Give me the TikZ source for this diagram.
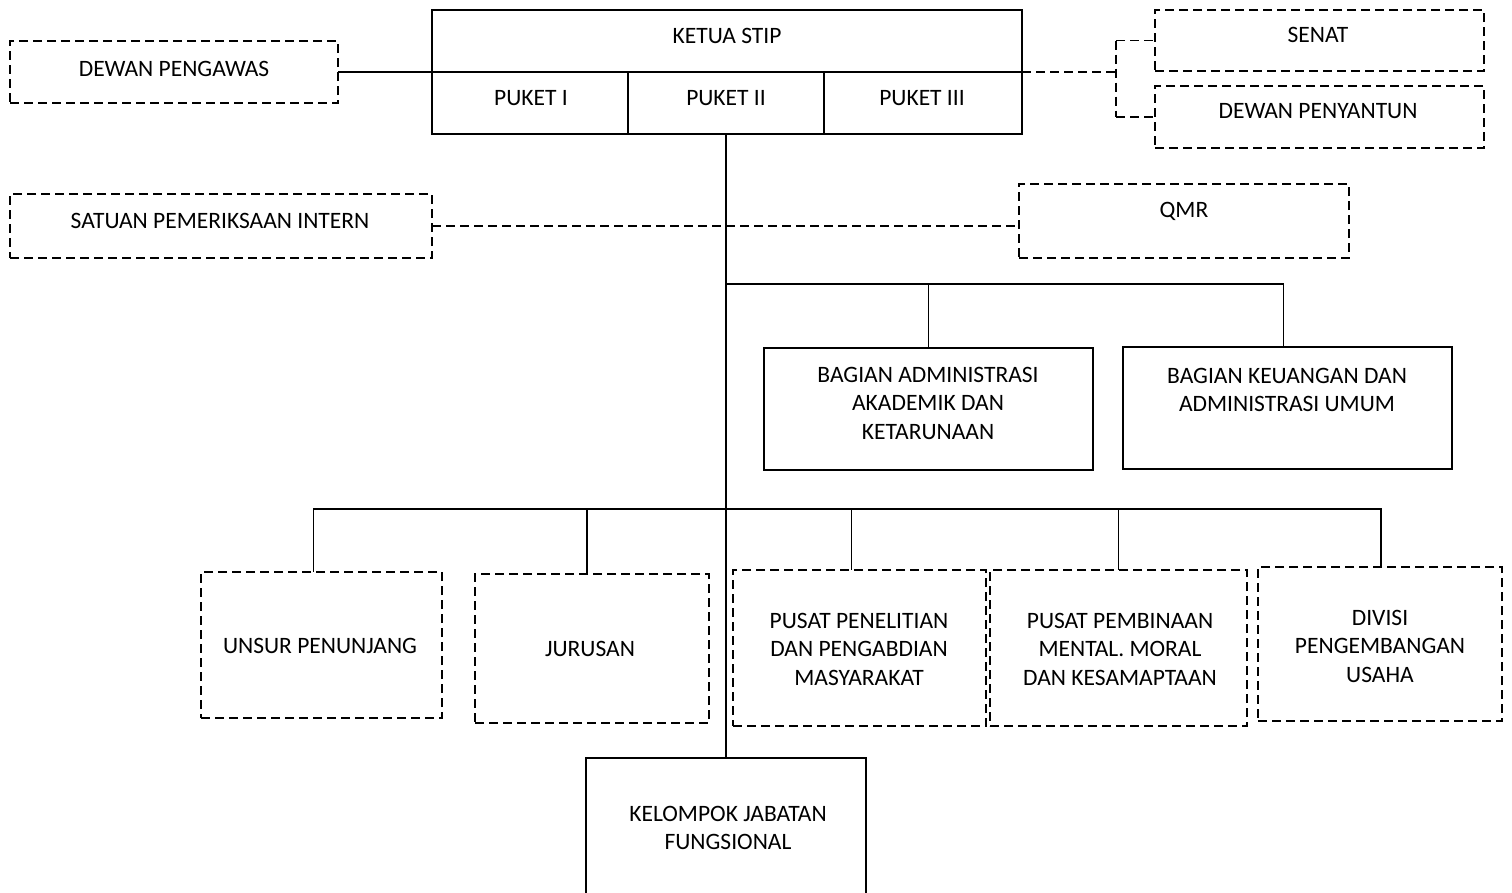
\documentclass[tikz,border=0pt]{standalone}
\usepackage{fontspec}
\setmainfont{Carlito}
\begin{document}
\begin{tikzpicture}[x=1pt,y=-1pt,
  every node/.style={inner sep=0pt, outer sep=0pt},
  sbox/.style={draw, line width=1.8pt, rectangle},
  dbox/.style={draw, line width=1.8pt, rectangle, dash pattern=on 9pt off 5pt},
  lbl/.style={font=\fontsize{23.5}{28.5}\selectfont, align=center, text depth=0pt},
  mlbl/.style={font=\fontsize{23.5}{28.5}\selectfont, align=center},
  conn/.style={line width=1.8pt},
  dconn/.style={line width=1.8pt, dash pattern=on 9pt off 5pt}]
\useasboundingbox[fill=white] (0,0) rectangle (1512,892);

% top block
\node[sbox, minimum width=590pt, minimum height=62pt] (ketua) at (727,41) {};
\node[sbox, minimum width=196pt, minimum height=62pt] (p1) at (530,103) {};
\node[sbox, minimum width=196pt, minimum height=62pt] (p2) at (726,103) {};
\node[sbox, minimum width=198pt, minimum height=62pt] (p3) at (923,103) {};
\node[lbl] (tketua) at (727,36) {KETUA STIP};
\node[lbl] (tp1) at (531,98) {PUKET I};
\node[lbl] (tp2) at (726,98) {PUKET II};
\node[lbl] (tp3) at (922,98) {PUKET III};

\node[dbox, minimum width=328pt, minimum height=62pt] (dp) at (174,72) {};
\node[lbl] (tdp) at (174,69) {DEWAN PENGAWAS};

\node[dbox, minimum width=329pt, minimum height=61pt] (senat) at (1319.5,40.5) {};
\node[lbl] (tsenat) at (1318,35) {SENAT};
\node[dbox, minimum width=329pt, minimum height=62pt] (peny) at (1319.5,117) {};
\node[lbl] (tpeny) at (1318,111) {DEWAN PENYANTUN};

\node[dbox, minimum width=422pt, minimum height=64pt] (spi) at (221,226) {};
\node[lbl] (tspi) at (220,221) {SATUAN PEMERIKSAAN INTERN};
\node[dbox, minimum width=330pt, minimum height=74pt] (qmr) at (1184,221) {};
\node[lbl] (tqmr) at (1184,210) {QMR};

% bagian
\node[sbox, minimum width=329pt, minimum height=122pt] (adm) at (928.5,409) {};
\node[mlbl] (tadm) at (928,403) {BAGIAN ADMINISTRASI\\AKADEMIK DAN\\KETARUNAAN};
\node[sbox, minimum width=329pt, minimum height=122pt] (keu) at (1287.5,408) {};
\node[mlbl] (tkeu) at (1287,390) {BAGIAN KEUANGAN DAN\\ADMINISTRASI UMUM};

% lower row
\node[dbox, minimum width=241pt, minimum height=146pt] (unsur) at (321.5,645) {};
\node[lbl] (tunsur) at (320,646) {UNSUR PENUNJANG};
\node[dbox, minimum width=234pt, minimum height=149pt] (jur) at (592,648.5) {};
\node[lbl] (tjur) at (590,649) {JURUSAN};
\node[dbox, minimum width=253pt, minimum height=156pt] (ppm) at (859.5,648) {};
\node[mlbl] (tppm) at (859,649) {PUSAT PENELITIAN\\DAN PENGABDIAN\\MASYARAKAT};
\node[dbox, minimum width=257pt, minimum height=156pt] (pmb) at (1118.5,648) {};
\node[mlbl] (tpmb) at (1120,649) {PUSAT PEMBINAAN\\MENTAL. MORAL\\DAN KESAMAPTAAN};
\node[dbox, minimum width=244pt, minimum height=154pt] (div) at (1380,644) {};
\node[mlbl] (tdiv) at (1380,646) {DIVISI\\PENGEMBANGAN\\USAHA};

\node[sbox, minimum width=280pt, minimum height=142pt] (kel) at (726,829) {};
\node[mlbl] (tkel) at (728,828) {KELOMPOK JABATAN\\FUNGSIONAL};

% connectors
\draw[conn] (dp.east) -- (ketua.south west);
\coordinate (brk) at (1116,72);
\draw[dconn] (ketua.south east) -- (brk);
\draw[dconn] (brk |- senat.west) -- (brk |- peny.west);
\draw[dconn] (brk |- senat.west) -- (senat.west);
\draw[dconn] (brk |- peny.west) -- (peny.west);

\draw[conn] (p2.south) -- (kel.north);
\draw[dconn] (spi.east) -- (spi.east -| qmr.west);

\coordinate (j1) at (726,284);
\draw[conn] (j1) -| (adm.north);
\draw[conn] (j1) -| ([xshift=-4pt]keu.north);

\coordinate (j2) at (726,509);
\draw[conn] (j2) -| ([xshift=-8pt]unsur.north);
\draw[conn] (j2) -| ([xshift=-5pt]jur.north);
\draw[conn] (j2) -| ([xshift=-8pt]ppm.north);
\draw[conn] (j2) -| (pmb.north);
\draw[conn] (j2) -| ([xshift=1pt]div.north);
\end{tikzpicture}
\end{document}
